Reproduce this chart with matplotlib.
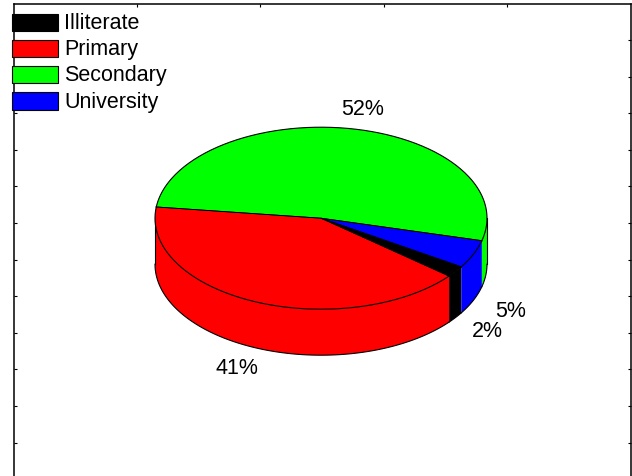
#!/usr/bin/env python3

import numpy as np
import matplotlib
matplotlib.use("Agg")
import matplotlib.pyplot as plt

## DATA
categories = ["Illiterate", "Primary", "Secondary", "University"]
percents = [2, 41, 52, 5]
colours = ["#000000", "#ff0000", "#00ff00", "#0000ff"]
## / DATA

## SETTINGS
W = 632; H = 477
cx = 321; cy = 219.2; rx = 166
start_angle = -39.5  # edge between primary and illiterate on the top face
tilt = 91 / rx
depth = 46 / rx
plt.rcParams['font.family'] = ['Liberation Sans', 'DejaVu Sans']
## / SETTINGS

fig = plt.figure(figsize=(W / 100, H / 100), dpi=100)

def ux(px):
    return (px - cx) / rx

def uy(py):
    return (cy - py) / rx

# axes in pixel units, bottom of the frame runs off the figure
left = 13.5; right = 630.5; top = 4.5; bottom = 500
ax = fig.add_axes([left / W, 1 - bottom / H, (right - left) / W, (bottom - top) / H])
ax.set_xlim(ux(left), ux(right))
ax.set_ylim(uy(bottom), uy(top))
for s in ax.spines.values():
    s.set_linewidth(1.1)

# frame ticks point inward, no labels
ax.tick_params(direction="in", length=2.2, width=0.8, left=True, right=True, top=True, bottom=False,
               labelleft=False, labelbottom=False)
ax.set_yticks(uy(np.arange(41, 500, 36.6)))
ax.set_xticks(ux(np.array([136.5, 260, 384, 507])))

def pt(deg):
    return np.cos(np.radians(deg)), np.sin(np.radians(deg)) * tilt

# slices go anticlockwise from the start edge: illiterate, university, secondary, primary
edges = {}
a = start_angle
for name in ["Illiterate", "University", "Secondary", "Primary"]:
    span = percents[categories.index(name)] * 3.6
    edges[name] = (a, a + span)
    a += span

# side walls, only the front half shows
for name, col in zip(categories, colours):
    a1, a2 = edges[name]
    for shift in (0, -360):
        lo = max(a1 + shift, -180); hi = min(a2 + shift, 0)
        if hi <= lo:
            continue
        t = np.linspace(lo, hi, 100)
        x, y = pt(t)
        ax.fill(np.r_[x, x[::-1]], np.r_[y, y[::-1] - depth], facecolor=col, edgecolor="none", zorder=2)
        ax.plot(x, y - depth, color="k", lw=0.8, zorder=4)

# outer sides of the cylinder
for deg in [-180, 0]:
    x, y = pt(deg)
    ax.plot([x, x], [y, y - depth], color="k", lw=0.8, zorder=3)

# top faces
for name, col in zip(categories, colours):
    a1, a2 = edges[name]
    t = np.linspace(a1, a2, 200)
    x, y = pt(t)
    ax.fill(np.r_[0, x], np.r_[0, y], facecolor=col, edgecolor="none", zorder=5)
    ax.plot(x, y, color="k", lw=0.8, zorder=6)
    ax.plot([x[0], 0, x[-1]], [y[0], 0, y[-1]], color="k", lw=0.6, zorder=6)

# percent labels
label_pos = {"Illiterate": (487, 331.5), "Primary": (236.5, 368), "Secondary": (362.5, 109), "University": (511, 311)}
for name, p in zip(categories, percents):
    px, py = label_pos[name]
    ax.text(ux(px), uy(py), f"{p}%", fontsize=15.5, ha="center", va="center", color="k", zorder=8)

# legend
ys = [23.5, 49.5, 75.5, 102]
for name, col, yy in zip(categories, colours, ys):
    ax.add_patch(plt.Rectangle((ux(11.5), uy(yy + 8.5)), 46.5 / rx, 17.5 / rx,
                               facecolor=col, edgecolor="k", lw=0.8, zorder=9, clip_on=False))
    ax.text(ux(64.5), uy(yy), name, fontsize=15.5, ha="left", va="center", color="k", zorder=9)

fig.savefig("out.png", dpi=100)
